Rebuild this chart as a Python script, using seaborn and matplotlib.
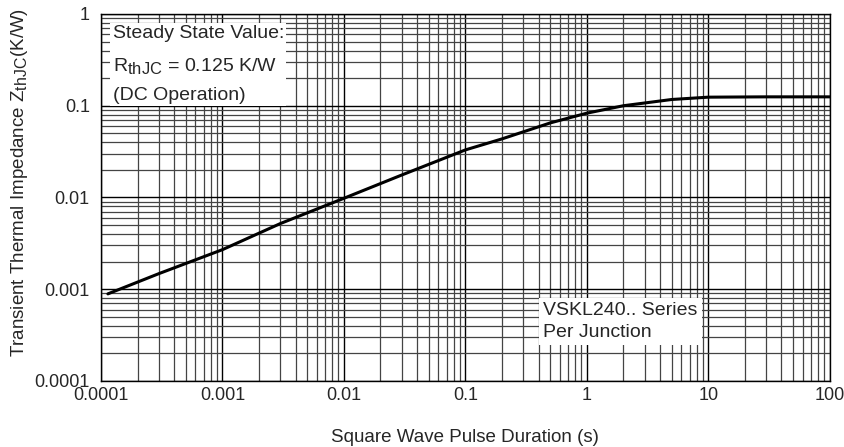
import numpy as np
import pandas as pd
import matplotlib
matplotlib.use('Agg')
import matplotlib.pyplot as plt
import matplotlib._mathtext as mathtext_internal
import seaborn as sns
from matplotlib.ticker import LogLocator, NullFormatter

# data
pulse_s = [1.14e-4, 3e-4, 1e-3, 3e-3, 1e-2, 3e-2, 1e-1, 2e-1, 5e-1, 1.0, 2.0, 5.0, 10.0, 30.0, 100.0]
zthjc = [0.00089, 0.00148, 0.0027, 0.0052, 0.0098, 0.0176, 0.033, 0.0435, 0.065, 0.083, 0.100, 0.117, 0.124, 0.125, 0.125]

x_ticks = [0.0001, 0.001, 0.01, 0.1, 1, 10, 100]
x_labels = ['0.0001', '0.001', '0.01', '0.1', '1', '10', '100']
y_ticks = [0.0001, 0.001, 0.01, 0.1, 1]
y_labels = ['0.0001', '0.001', '0.01', '0.1', '1']

sns.set_style('white')
plt.rcParams['font.family'] = ['Liberation Sans', 'DejaVu Sans']
plt.rcParams['mathtext.fontset'] = 'custom'
plt.rcParams['mathtext.rm'] = 'Liberation Sans'
plt.rcParams['mathtext.it'] = 'Liberation Sans'
# subscripts in the datasheet are nearly full size
mathtext_internal.SHRINK_FACTOR = 0.85

df = pd.DataFrame({'t': pulse_s, 'z': zthjc})

fig = plt.figure(figsize=(8.45, 4.47), dpi=100)
ax = fig.add_axes([0.1195, 0.1477, 0.8625, 0.8210])

ax.set_xscale('log')
ax.set_yscale('log')
ax.set_xlim(1e-4, 100)
ax.set_ylim(1e-4, 1)

# grid
ax.xaxis.set_minor_locator(LogLocator(base=10, subs=np.arange(2, 10)))
ax.yaxis.set_minor_locator(LogLocator(base=10, subs=np.arange(2, 10)))
ax.xaxis.set_minor_formatter(NullFormatter())
ax.yaxis.set_minor_formatter(NullFormatter())
ax.grid(which='major', color='black', linewidth=1.0)
ax.grid(which='minor', color='#444444', linewidth=0.9)
ax.set_axisbelow(True)

sns.lineplot(data=df, x='t', y='z', ax=ax, color='black', linewidth=2.2, zorder=3)

ax.set_xticks(x_ticks)
ax.set_xticklabels(x_labels, fontsize=13)
ax.set_yticks(y_ticks)
ax.set_yticklabels(y_labels, fontsize=13)
ax.tick_params(which='both', length=0)
ax.tick_params(axis='x', pad=4)
ax.tick_params(axis='y', pad=8)

for s in ax.spines.values():
    s.set_color('black')
    s.set_linewidth(1.0)

ax.set_xlabel('Square Wave Pulse Duration (s)', fontsize=13.5, labelpad=18)
ax.set_ylabel('Transient Thermal Impedance Z$_{\\mathrm{thJC}}$(K/W)', fontsize=13.5, labelpad=2)
ax.yaxis.set_label_coords(-0.098, 0.54)

# text boxes
ax.text(0.016, 0.97, 'Steady State Value:\nR$_{\\mathrm{thJC}}$ = 0.125 K/W\n(DC Operation)',
        transform=ax.transAxes, ha='left', va='top', fontsize=14, linespacing=1.9,
        bbox=dict(facecolor='white', edgecolor='none', pad=1.5), zorder=4)
ax.text(0.607, 0.214, 'VSKL240.. Series\nPer Junction',
        transform=ax.transAxes, ha='left', va='top', fontsize=14, linespacing=1.35,
        bbox=dict(facecolor='white', edgecolor='none', pad=3), zorder=4)

fig.savefig('out.png', dpi=100)
